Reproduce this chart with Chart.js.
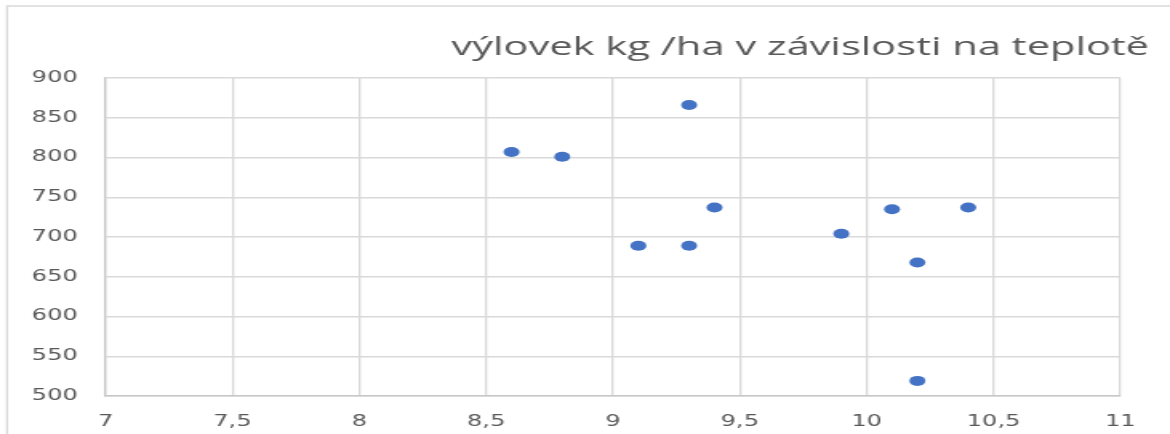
<!DOCTYPE html>
<html>
<head>
<meta charset="utf-8">
<script src="https://cdn.jsdelivr.net/npm/chart.js@4/dist/chart.umd.min.js"></script>
<style>
  html, body { margin: 0; padding: 0; background: #ffffff; overflow: hidden; }
  #wrap { width: 731px; height: 434px; transform: scaleX(1.6005); transform-origin: 0 0; }
  canvas { display: block; }
</style>
</head>
<body>
<div id="wrap"><canvas id="c" width="731" height="434"></canvas></div>
<script>
const chartTitle = 'výlovek kg /ha v závislosti na teplotě';
const temperature = [8.6, 8.8, 9.3, 9.1, 9.3, 9.4, 9.9, 10.1, 10.4, 10.2, 10.2];
const yieldKgHa   = [807, 801, 866, 689, 689, 737, 704, 735, 737, 668, 519];
const xTickLabels = ['7', '7,5', '8', '8,5', '9', '9,5', '10', '10,5', '11'];
const yTickLabels = ['500', '550', '600', '650', '700', '750', '800', '850', '900'];

const points = temperature.map((t, i) => ({ x: t, y: yieldKgHa[i] }));

const framePlugin = {
  id: 'frame',
  beforeDraw(chart) {
    const ctx = chart.ctx;
    ctx.save();
    ctx.fillStyle = '#ffffff';
    ctx.fillRect(0, 0, chart.width, chart.height);
    ctx.strokeStyle = '#d9d9d9';
    ctx.lineWidth = 1.3;
    ctx.beginPath();
    ctx.moveTo(4.4, chart.height);
    ctx.lineTo(4.4, 6);
    ctx.lineTo(chart.width, 6);
    ctx.stroke();
    ctx.restore();
  },
  afterDraw(chart) {
    const ctx = chart.ctx;
    ctx.save();
    ctx.fillStyle = '#595959';
    ctx.font = '26px "Open Sans", sans-serif';
    ctx.textAlign = 'center';
    ctx.textBaseline = 'middle';
    ctx.fillText(chartTitle, 500, 48);
    ctx.restore();
  }
};

new Chart(document.getElementById('c'), {
  type: 'scatter',
  data: {
    datasets: [{
      data: points,
      backgroundColor: '#4472c4',
      borderColor: '#4472c4',
      pointRadius: 5,
      pointHoverRadius: 5,
      borderWidth: 0
    }]
  },
  options: {
    responsive: false,
    animation: false,
    devicePixelRatio: 1,
    layout: { padding: { top: 78, right: 31, bottom: 3, left: 0 } },
    plugins: {
      legend: { display: false },
      title: { display: false },
      tooltip: { enabled: false }
    },
    scales: {
      x: {
        type: 'linear',
        min: 7, max: 11,
        afterFit(scale) { scale.height = 35; },
        ticks: {
          stepSize: 0.5,
          padding: 17,
          color: '#595959',
          font: { family: 'DejaVu Sans', size: 15 },
          maxRotation: 0,
          autoSkip: false,
          callback: (v, i) => xTickLabels[i]
        },
        grid: { color: '#d9d9d9', lineWidth: 1.3, drawTicks: false },
        border: { color: '#c8c8c8', width: 1.5 }
      },
      y: {
        type: 'linear',
        min: 500, max: 900,
        afterFit(scale) { scale.width = 66; },
        ticks: {
          stepSize: 50,
          padding: 17.5,
          color: '#595959',
          font: { family: 'DejaVu Sans', size: 15 },
          callback: (v, i) => yTickLabels[i]
        },
        grid: { color: '#d9d9d9', lineWidth: 1.5, drawTicks: false },
        border: { color: '#c8c8c8', width: 1.3 }
      }
    }
  },
  plugins: [framePlugin]
});
</script>
</body>
</html>
